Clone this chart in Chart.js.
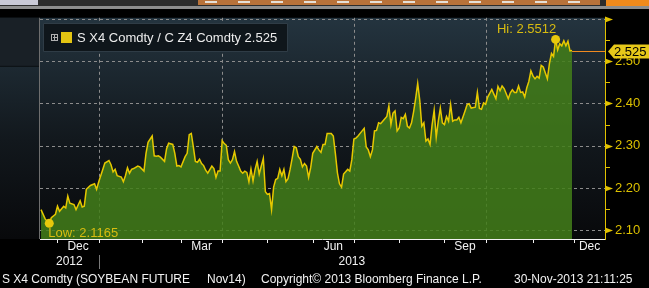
<!DOCTYPE html>
<html>
<head>
<meta charset="utf-8">
<script src="https://cdn.jsdelivr.net/npm/chart.js@4.4.1/dist/chart.umd.min.js"></script>
<style>
html, body { margin: 0; padding: 0; background: #000; }
canvas { display: block; }
</style>
</head>
<body>
<canvas id="ratioChart" width="649" height="288"></canvas>
<script>
// x = trading-day index (0 = first session of Dec 2012), y = S X4 / C Z4 ratio
var tradingDays = [
    -8, -6, -4, -3, -1, 0, 1, 3, 4, 5,
    6, 8, 9, 11, 12, 13, 14, 16, 18, 19,
    20, 22, 23, 25, 26, 27, 28, 29, 31, 32,
    33, 34, 35, 36, 37, 39, 40, 42, 43, 44,
    46, 47, 48, 49, 50, 52, 53, 54, 56, 57,
    58, 59, 60, 62, 63, 64, 65, 66, 67, 68,
    69, 70, 71, 72, 73, 75, 76, 77, 78, 79,
    80, 81, 82, 83, 84, 85, 86, 87, 88, 89,
    90, 91, 92, 93, 94, 95, 96, 97, 98, 99,
    100, 101, 102, 103, 104, 105, 106, 107, 108, 109,
    110, 111, 112, 113, 114, 115, 116, 117, 118, 119,
    120, 121, 122, 123, 124, 126, 127, 128, 129, 130,
    131, 133, 134, 135, 136, 137, 138, 139, 141, 142,
    143, 144, 145, 146, 148, 149, 150, 151, 152, 153,
    154, 155, 156, 157, 158, 160, 161, 162, 163, 164,
    165, 166, 167, 168, 169, 170, 171, 172, 173, 174,
    175, 176, 177, 178, 179, 180, 181, 182, 183, 184,
    185, 186, 187, 188, 189, 190, 191, 192, 193, 194,
    195, 196, 198, 199, 200, 201, 203, 204, 205, 206,
    207, 208, 209, 211, 212, 213, 214, 215, 216, 217,
    219, 220, 221, 222, 223, 224, 225, 226, 227, 228,
    229, 230, 231, 232, 233, 234, 235, 236, 238, 239,
    240, 241, 242, 243, 244, 245, 246, 247, 248, 249,
    250
];
var ratioValues = [
    2.149, 2.127, 2.1165, 2.130, 2.138, 2.157, 2.145, 2.157, 2.153, 2.181,
    2.164, 2.161, 2.149, 2.170, 2.155, 2.157, 2.197, 2.206, 2.210, 2.197,
    2.214, 2.244, 2.259, 2.265, 2.255, 2.238, 2.244, 2.229, 2.226, 2.215,
    2.229, 2.248, 2.235, 2.244, 2.246, 2.252, 2.250, 2.240, 2.282, 2.308,
    2.323, 2.276, 2.275, 2.276, 2.273, 2.263, 2.293, 2.306, 2.303, 2.282,
    2.252, 2.253, 2.250, 2.274, 2.282, 2.326, 2.329, 2.297, 2.263, 2.261,
    2.268, 2.258, 2.253, 2.242, 2.235, 2.252, 2.246, 2.225, 2.240, 2.240,
    2.312, 2.305, 2.301, 2.267, 2.259, 2.267, 2.286, 2.263, 2.252, 2.240,
    2.235, 2.240, 2.237, 2.215, 2.245, 2.217, 2.244, 2.263, 2.233, 2.252,
    2.270, 2.191, 2.185, 2.187, 2.149, 2.202, 2.220, 2.223, 2.244, 2.229,
    2.244, 2.215, 2.222, 2.244, 2.270, 2.298, 2.295, 2.274, 2.268, 2.250,
    2.258, 2.252, 2.225, 2.248, 2.282, 2.298, 2.290, 2.284, 2.303, 2.303,
    2.329, 2.329, 2.323, 2.282, 2.236, 2.210, 2.202, 2.233, 2.244, 2.240,
    2.267, 2.316, 2.318, 2.323, 2.335, 2.341, 2.297, 2.290, 2.274, 2.290,
    2.335, 2.336, 2.354, 2.352, 2.358, 2.369, 2.394, 2.350, 2.377, 2.382,
    2.335, 2.342, 2.367, 2.364, 2.374, 2.346, 2.342, 2.354, 2.380, 2.411,
    2.447, 2.407, 2.346, 2.354, 2.311, 2.316, 2.303, 2.350, 2.384, 2.320,
    2.358, 2.389, 2.354, 2.350, 2.369, 2.358, 2.397, 2.358, 2.361, 2.361,
    2.367, 2.354, 2.382, 2.397, 2.399, 2.389, 2.391, 2.426, 2.388, 2.386,
    2.401, 2.398, 2.415, 2.433, 2.422, 2.411, 2.440, 2.430, 2.441, 2.435,
    2.411, 2.425, 2.432, 2.426, 2.426, 2.441, 2.426, 2.427, 2.415, 2.437,
    2.452, 2.477, 2.465, 2.458, 2.464, 2.460, 2.490, 2.486, 2.458, 2.494,
    2.518, 2.511, 2.5512, 2.526, 2.541, 2.536, 2.548, 2.536, 2.547, 2.524,
    2.525
];

// first trading day of each month, Dec 2012 .. Dec 2013
var monthStarts = [0, 20, 41, 60, 80, 102, 124, 144, 166, 188, 208, 231, 251];
var monthNames = ['Dec', 'Jan', 'Feb', 'Mar', 'Apr', 'May', 'Jun', 'Jul', 'Aug', 'Sep', 'Oct', 'Nov', 'Dec'];
var yearNames = ['2012', '2013'];
var yearStarts = [-8.5, 20];
var yLabelValues = [2.1, 2.2, 2.3, 2.4, 2.5];
var yMarkValues = [2.1, 2.2, 2.3, 2.4, 2.5, 2.6];
var hiDay = 242, hiValue = 2.5512;
var lowDay = -4, lowValue = 2.1165;
var lastDay = 250, lastValue = 2.525;
var legendText = 'S X4 Comdty / C Z4 Comdty 2.525';

var FONT = '"Liberation Sans", Arial, sans-serif';
var xMin = -8.5, xMax = 266;

function hline(ctx, x1, x2, y) {
    ctx.beginPath(); ctx.moveTo(x1, y); ctx.lineTo(x2, y); ctx.stroke();
}
function vline(ctx, x, y1, y2) {
    ctx.beginPath(); ctx.moveTo(x, y1); ctx.lineTo(x, y2); ctx.stroke();
}

var backdrop = {
    id: 'backdrop',
    beforeDraw: function (chart) {
        var ctx = chart.ctx, a = chart.chartArea;
        var xs = chart.scales.x, ys = chart.scales.y;
        ctx.save();
        ctx.fillStyle = '#000';
        ctx.fillRect(0, 0, chart.width, chart.height);

        var g = ctx.createLinearGradient(0, a.top, 0, a.bottom);
        g.addColorStop(0, '#24343f');
        g.addColorStop(0.55, '#12181d');
        g.addColorStop(1, '#08090b');
        ctx.fillStyle = g;
        ctx.fillRect(0, a.top, a.right, a.bottom - a.top);

        // toolbar strip at the very top
        ctx.fillStyle = '#2c2c2c';
        ctx.fillRect(0, 0, chart.width, 6);
        ctx.fillStyle = '#c9c9d6';
        ctx.fillRect(0, 0, 38, 5);
        ctx.fillStyle = '#b8723a';
        ctx.fillRect(198, 0, 402, 5);
        ctx.fillStyle = '#e6e0d8';
        for (var i = 0; i < 12; i++) ctx.fillRect(205 + i * 33, 1, 12, 2);
        ctx.fillStyle = '#f08a1c';
        ctx.fillRect(606, 0, 43, 6);
        ctx.fillStyle = '#8e8e8e';
        ctx.fillRect(0, 6, chart.width, 3);

        // dark panel top-left
        ctx.fillStyle = '#192026';
        ctx.fillRect(0, a.top, a.left - 1, 48);
        ctx.strokeStyle = '#0b0e11';
        hline(ctx, 0, a.left - 1, a.top + 48.5);

        // dashed grid
        ctx.strokeStyle = '#8c8c8c';
        ctx.lineWidth = 1;
        ctx.setLineDash([3, 3]);
        yMarkValues.forEach(function (v) {
            var y = Math.round(ys.getPixelForValue(v)) + 0.5;
            hline(ctx, a.left, a.right, y);
        });
        [1, 4, 7, 10].forEach(function (m) {
            var x = Math.round(xs.getPixelForValue(monthStarts[m])) + 0.5;
            vline(ctx, x, a.top, a.bottom);
        });
        ctx.setLineDash([]);

        ctx.strokeStyle = '#6e6e6e';
        vline(ctx, a.left - 0.5, a.top, a.bottom);
        ctx.restore();
    }
};

var overlay = {
    id: 'overlay',
    afterDraw: function (chart) {
        var ctx = chart.ctx, a = chart.chartArea;
        var xs = chart.scales.x, ys = chart.scales.y;
        ctx.save();

        // right axis
        ctx.strokeStyle = '#e2c200';
        ctx.lineWidth = 1;
        vline(ctx, a.right + 0.5, a.top, a.bottom + 1);
        yMarkValues.forEach(function (v) {
            var y = Math.round(ys.getPixelForValue(v)) + 0.5;
            ctx.fillStyle = '#e2c200';
            ctx.beginPath();
            ctx.moveTo(a.right, y - 3);
            ctx.lineTo(a.right + 8, y);
            ctx.lineTo(a.right, y + 3);
            ctx.closePath();
            ctx.fill();
            if (v < 2.6) {
                var ym = Math.round(ys.getPixelForValue(v + 0.05)) + 0.5;
                hline(ctx, a.right, a.right + 5, ym);
            }
        });

        // bottom axis
        ctx.strokeStyle = '#f0f0f0';
        hline(ctx, a.left, a.right, a.bottom + 0.5);
        monthStarts.forEach(function (d) {
            var x = Math.round(xs.getPixelForValue(d)) + 0.5;
            vline(ctx, x, a.bottom, a.bottom + 4);
        });
        ctx.fillStyle = '#f2f2f2';
        ctx.font = '12px ' + FONT;
        ctx.textAlign = 'center';
        ctx.textBaseline = 'middle';
        for (var m = 0; m < monthStarts.length; m += 3) {
            var s = Math.max(monthStarts[m], xMin);
            var e = m + 1 < monthStarts.length ? monthStarts[m + 1] : xMax;
            ctx.fillText(monthNames[m], xs.getPixelForValue((s + Math.min(e, xMax)) / 2), a.bottom + 8);
        }
        yearNames.forEach(function (yn, i) {
            var s = yearStarts[i];
            var e = i + 1 < yearStarts.length ? yearStarts[i + 1] : xMax;
            ctx.fillText(yn, xs.getPixelForValue((s + e) / 2), a.bottom + 23);
        });
        ctx.strokeStyle = '#7a7a7a';
        vline(ctx, Math.round(xs.getPixelForValue(yearStarts[1])) + 0.5, a.bottom + 16, a.bottom + 30);

        // last value line and tag
        var ly = Math.round(ys.getPixelForValue(lastValue)) + 0.5;
        ctx.strokeStyle = '#f08a20';
        hline(ctx, xs.getPixelForValue(lastDay), a.right, ly);
        ctx.fillStyle = '#e6c81a';
        ctx.beginPath();
        ctx.moveTo(a.right + 3, ly);
        ctx.lineTo(a.right + 9, ly - 7);
        ctx.lineTo(chart.width, ly - 7);
        ctx.lineTo(chart.width, ly + 7);
        ctx.lineTo(a.right + 9, ly + 7);
        ctx.closePath();
        ctx.fill();
        ctx.fillStyle = '#000';
        ctx.font = '13px ' + FONT;
        ctx.textAlign = 'left';
        ctx.fillText(lastValue.toFixed(3), a.right + 9, ly + 0.5);

        // hi / low notes
        ctx.fillStyle = '#d8bc10';
        ctx.textAlign = 'center';
        ctx.fillText('Hi: ' + hiValue.toFixed(4), xs.getPixelForValue(hiDay) - 29, ys.getPixelForValue(hiValue) - 10);
        ctx.textAlign = 'left';
        ctx.fillText('Low: ' + lowValue.toFixed(4), xs.getPixelForValue(lowDay) - 1, ys.getPixelForValue(lowValue) + 10);

        // legend box
        ctx.fillStyle = '#0f161b';
        ctx.strokeStyle = '#2f3c46';
        ctx.beginPath();
        ctx.rect(43.5, 23.5, 244, 28);
        ctx.fill();
        ctx.stroke();
        ctx.strokeStyle = '#b0b0b0';
        ctx.strokeRect(51.5, 34.5, 6, 6);
        hline(ctx, 53, 57, 37.5);
        vline(ctx, 54.5, 35, 40);
        ctx.fillStyle = '#e2c412';
        ctx.fillRect(61, 32, 11, 11);
        ctx.fillStyle = '#ececec';
        ctx.fillText(legendText, 77, 38);

        // footer
        ctx.font = '12px ' + FONT;
        ctx.fillStyle = '#f2f2f2';
        ctx.fillText('S X4 Comdty (SOYBEAN FUTURE', 2, 280);
        ctx.fillText('Nov14)', 207, 280);
        ctx.fillText('Copyright\u00a9 2013 Bloomberg Finance L.P.', 261, 280);
        ctx.fillText('30-Nov-2013 21:11:25', 514, 280);
        ctx.restore();
    }
};

var points = tradingDays.map(function (d, i) {
    return { x: d, y: ratioValues[i] };
});

var ctx = document.getElementById('ratioChart').getContext('2d');
var ratioChart = new Chart(ctx, {
    type: 'line',
    data: {
        datasets: [{
            label: 'S X4 Comdty / C Z4 Comdty',
            data: points,
            borderColor: '#e6c800',
            borderWidth: 1.5,
            backgroundColor: 'rgba(66, 126, 26, 0.86)',
            fill: 'start',
            pointRadius: 0,
            tension: 0,
            order: 2
        }, {
            label: 'Hi / Low',
            data: [{ x: hiDay, y: hiValue }, { x: lowDay, y: lowValue }],
            showLine: false,
            pointRadius: 4.5,
            pointBackgroundColor: '#e8c80c',
            pointBorderWidth: 0,
            order: 1
        }]
    },
    options: {
        responsive: false,
        animation: false,
        events: [],
        layout: { padding: { left: 40, top: 9, right: 0, bottom: 49 } },
        plugins: {
            legend: { display: false },
            tooltip: { enabled: false }
        },
        scales: {
            x: { type: 'linear', min: xMin, max: xMax, display: false },
            y: {
                position: 'right',
                min: 2.0795,
                max: 2.6023,
                afterFit: function (scale) { scale.width = 44; },
                afterBuildTicks: function (scale) {
                    scale.ticks = yLabelValues.map(function (v) { return { value: v }; });
                },
                grid: { display: false, drawTicks: false },
                border: { display: false },
                ticks: {
                    color: '#dcc000',
                    padding: 10,
                    font: { family: 'Liberation Sans', size: 13 },
                    callback: function (v) { return Number(v).toFixed(2); }
                }
            }
        }
    },
    plugins: [backdrop, overlay]
});
</script>
</body>
</html>
